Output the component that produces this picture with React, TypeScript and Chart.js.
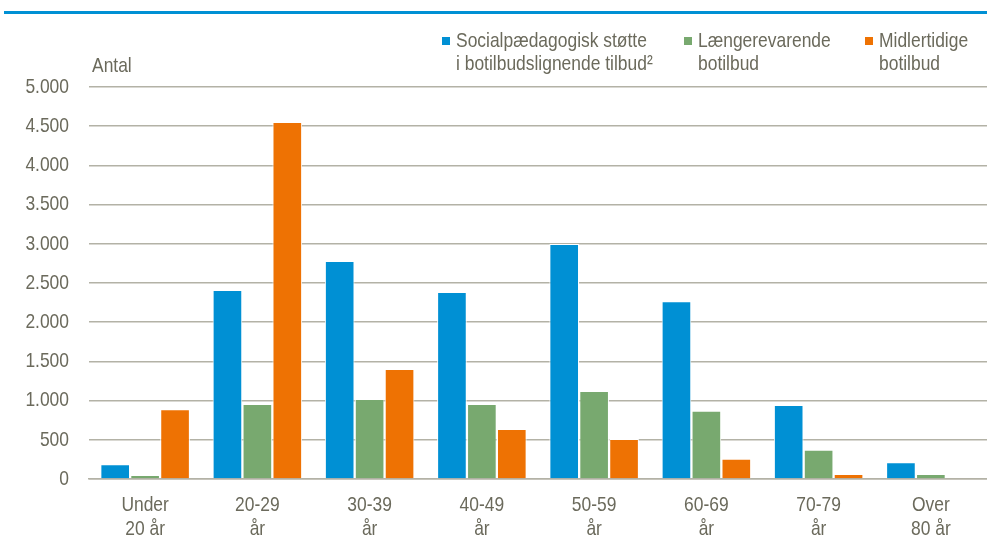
import React, { useEffect, useRef } from "react";
import { Chart, registerables } from "chart.js";

Chart.register(...registerables);

const categories: string[][] = [
  ["Under", "20 år"],
  ["20-29", "år"],
  ["30-39", "år"],
  ["40-49", "år"],
  ["50-59", "år"],
  ["60-69", "år"],
  ["70-79", "år"],
  ["Over", "80 år"],
];

const seriesNames: string[][] = [
  ["Socialpædagogisk støtte", "i botilbudslignende tilbud²"],
  ["Længerevarende", "botilbud"],
  ["Midlertidige", "botilbud"],
];

const socialpaedagogisk = [187, 2411, 2781, 2385, 2997, 2266, 944, 213];
const laengerevarende = [50, 957, 1020, 957, 1122, 871, 374, 64];
const midlertidige = [889, 4554, 1403, 638, 510, 259, 64, 0];

const colors = ["#0090d4", "#78a96f", "#ee7203"];
const yTicks = [0, 500, 1000, 1500, 2000, 2500, 3000, 3500, 4000, 4500, 5000];

const FONT = "'Liberation Sans', Arial, sans-serif";
const TEXT = "#6b6a5c";
const GRID = "#b3b2a6";
const SX = 0.83;
const FS = 21;

function fmt(v: number): string {
  return String(v).replace(/\B(?=(\d{3})+(?!\d))/g, ".");
}

const narrowTicks = {
  id: "narrowTicks",
  afterDraw(chart: any) {
    const ctx = chart.ctx as CanvasRenderingContext2D;
    const xs = chart.scales.x;
    const ys = chart.scales.y;
    ctx.save();
    ctx.fillStyle = TEXT;
    ctx.font = `${FS}px ${FONT}`;
    ctx.scale(SX, 1);
    ctx.textBaseline = "middle";
    ctx.textAlign = "right";
    yTicks.forEach((v) => {
      const y = ys.getPixelForValue(v);
      ctx.fillText(fmt(v), 69 / SX, y);
    });
    ctx.textAlign = "center";
    categories.forEach((lines, i) => {
      const x = xs.getPixelForTick(i);
      lines.forEach((t, j) => {
        ctx.fillText(t, x / SX, 505 + j * 24);
      });
    });
    ctx.restore();
  },
};

export default function App() {
  const ref = useRef<HTMLCanvasElement | null>(null);

  useEffect(() => {
    if (!ref.current) return;
    const data = [socialpaedagogisk, laengerevarende, midlertidige];
    const chart = new Chart(ref.current, {
      type: "bar",
      data: {
        labels: categories,
        datasets: data.map((d, i) => ({
          label: seriesNames[i].join(" "),
          data: d,
          backgroundColor: colors[i],
          borderColor: "#ffffff",
          borderWidth: 1,
          categoryPercentage: 0.8,
          barPercentage: 0.99,
        })),
      },
      options: {
        animation: false,
        responsive: false,
        maintainAspectRatio: false,
        layout: { padding: { top: 87, right: 0, bottom: 0, left: 0 } },
        plugins: {
          legend: { display: false },
          tooltip: { enabled: false },
          title: { display: false },
        },
        scales: {
          x: {
            grid: { display: false },
            border: { display: true, color: GRID, width: 1.5 },
            ticks: {
              color: "rgba(0,0,0,0)",
              font: { family: FONT, size: 20, lineHeight: 1.2 },
              padding: 8,
              maxRotation: 0,
              autoSkip: false,
            },
            afterFit: (s: any) => {
              s.height = 66;
            },
          },
          y: {
            min: 0,
            max: 5000,
            afterBuildTicks: (s: any) => {
              s.ticks = yTicks.map((v) => ({ value: v }));
            },
            grid: { color: GRID, lineWidth: 1.5, drawTicks: false },
            border: { display: false },
            ticks: {
              color: "rgba(0,0,0,0)",
              font: { family: FONT, size: 20 },
              padding: 20,
              callback: (v: any) => fmt(Number(v)),
            },
            afterFit: (s: any) => {
              s.width = 89;
            },
          },
        },
      },
      plugins: [narrowTicks],
    });
    return () => chart.destroy();
  }, []);

  const legendPos = [
    { sq: 442, tx: 456 },
    { sq: 684, tx: 698 },
    { sq: 865, tx: 879 },
  ];

  const textStyle: React.CSSProperties = {
    position: "absolute",
    fontSize: FS,
    color: TEXT,
    whiteSpace: "nowrap",
    transform: `scaleX(${SX})`,
    transformOrigin: "0 0",
  };

  return (
    <div
      style={{
        position: "fixed",
        left: 0,
        top: 0,
        width: 987,
        height: 545,
        background: "#ffffff",
        fontFamily: FONT,
        overflow: "hidden",
      }}
    >
      <div
        style={{
          position: "absolute",
          left: 4,
          top: 11,
          width: 983,
          height: 3,
          background: "#0090d4",
        }}
      />
      <canvas
        ref={ref}
        width={987}
        height={545}
        style={{ position: "absolute", left: 0, top: 0, width: 987, height: 545 }}
      />
      <div style={{ ...textStyle, left: 92, top: 53, lineHeight: "24px" }}>Antal</div>
      {seriesNames.map((name, i) => (
        <React.Fragment key={i}>
          <div
            style={{
              position: "absolute",
              left: legendPos[i].sq,
              top: 37,
              width: 8,
              height: 8,
              background: colors[i],
            }}
          />
          <div style={{ ...textStyle, left: legendPos[i].tx, top: 28, lineHeight: "23px" }}>
            {name[0]}
            <br />
            {name[1]}
          </div>
        </React.Fragment>
      ))}
    </div>
  );
}
